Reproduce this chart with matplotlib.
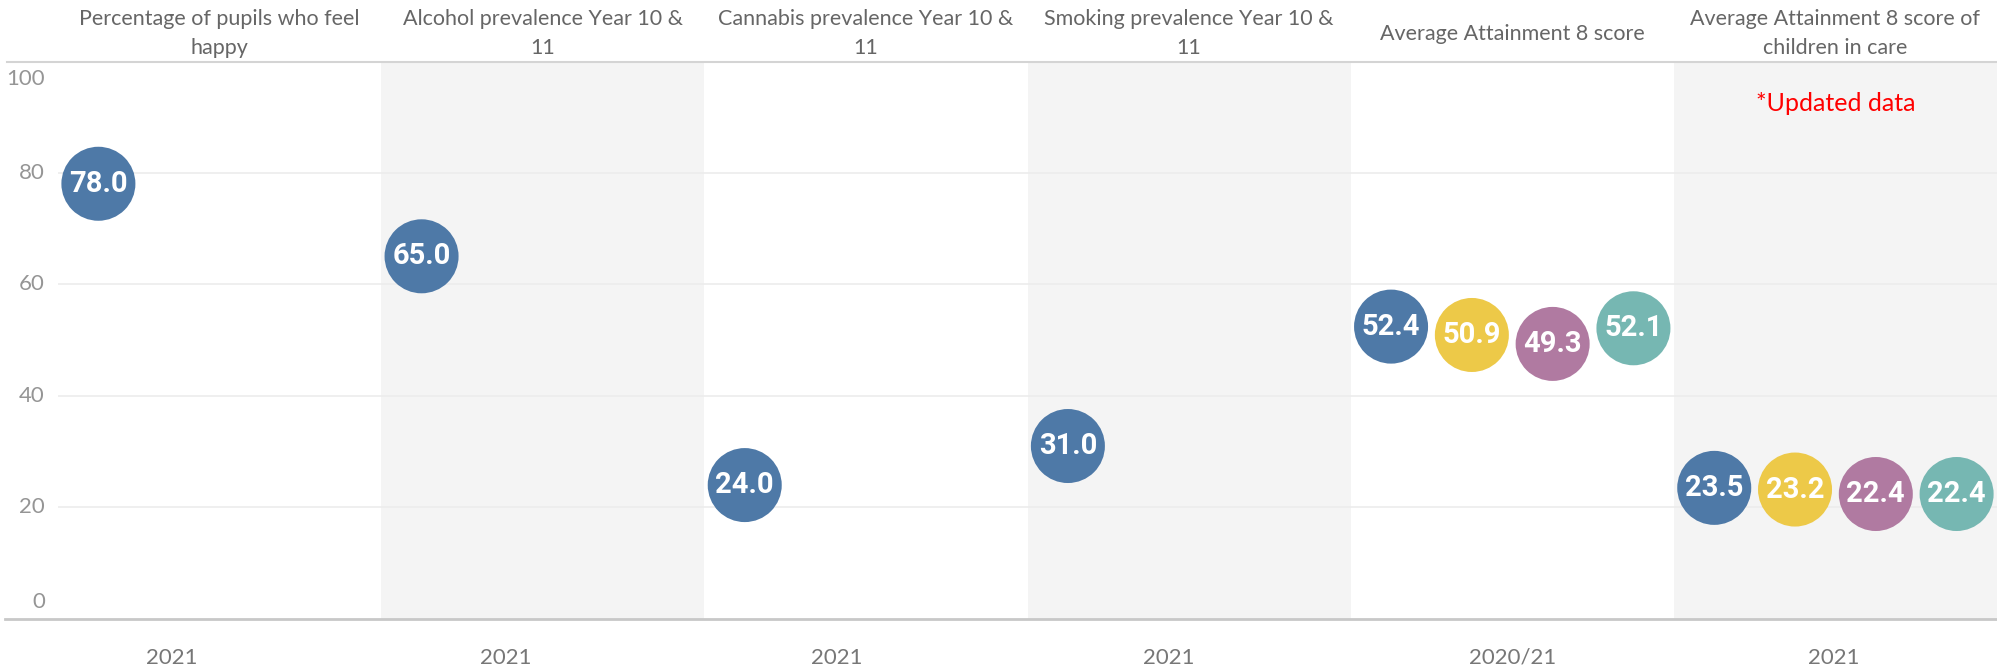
import matplotlib
matplotlib.use("Agg")
import matplotlib.pyplot as plt
from matplotlib.lines import Line2D

# ---- data ----
panel_titles = [
    "Percentage of pupils who feel\nhappy",
    "Alcohol prevalence Year 10 &\n11",
    "Cannabis prevalence Year 10 &\n11",
    "Smoking prevalence Year 10 &\n11",
    "Average Attainment 8 score",
    "Average Attainment 8 score of\nchildren in care",
]
periods = ["2021", "2021", "2021", "2021", "2020/21", "2021"]
happy = [78.0]
alcohol = [65.0]
cannabis = [24.0]
smoking = [31.0]
attainment = [52.4, 50.9, 49.3, 52.1]
attainment_care = [23.5, 23.2, 22.4, 22.4]
series_colors = ["#4E79A7", "#EDC948", "#B07AA1", "#76B7B2"]
y_ticks = [0, 20, 40, 60, 80, 100]
note = "*Updated data"

panel_values = [happy, alcohol, cannabis, smoking, attainment, attainment_care]

# ---- layout ----
period_label_x = [0.353, 1.385, 2.410, 3.438, 4.502, 5.496]

W, H = 1997, 671
fig = plt.figure(figsize=(W / 100, H / 100), dpi=100)
left_px, right_px, top_px, bot_px = 58, 1997, 61, 619
ax = fig.add_axes([left_px / W, 1 - bot_px / H, (right_px - left_px) / W, (bot_px - top_px) / H])
ax.set_xlim(0, len(panel_titles))
ax.set_ylim(0, 100)

# banded backgrounds
for p in range(len(panel_titles)):
    if p % 2 == 1:
        ax.axvspan(p, p + 1, color="#f4f4f4", lw=0, zorder=0)

for t in y_ticks[1:-1]:
    ax.axhline(t, color="#ececec", lw=1.2, zorder=1)

for s in ax.spines.values():
    s.set_visible(False)

# bubbles
for p, vals in enumerate(panel_values):
    for j, v in enumerate(vals):
        x = p + (j + 0.5) / 4
        ax.scatter([x], [v], s=2840, color=series_colors[j], edgecolor="none", zorder=3)
        ax.text(x, v, f"{v:.1f}", color="white", ha="center", va="center",
                fontsize=21, fontweight="bold", family="Roboto", zorder=4)

# y tick labels
ax.set_yticks(y_ticks)
ax.set_yticklabels([])
ax.tick_params(axis="y", length=0)
ytrans = ax.get_yaxis_transform()
xlab = -13 / (right_px - left_px)
for t in y_ticks:
    yy = t
    if t == 0:
        yy = 3.0
    elif t == 100:
        yy = 96.8
    ax.text(xlab, yy, str(t), transform=ytrans, ha="right", va="center",
            family="Lato", fontsize=16, color="#959595", clip_on=False)

# x labels (periods)
ax.set_xticks([])
xtrans = ax.get_xaxis_transform()
for xp, lab in zip(period_label_x, periods):
    ax.text(xp, -(658 - bot_px) / (bot_px - top_px), lab, transform=xtrans,
            ha="center", va="center", family="Lato", fontsize=16, color="#777777",
            clip_on=False)

# header titles
for p, title in enumerate(panel_titles):
    xf = (left_px + (p + 0.5) * (right_px - left_px) / 6) / W
    lines = title.split("\n")
    ys = [34] if len(lines) == 1 else [19, 48]
    for line, ypx in zip(lines, ys):
        fig.text(xf, 1 - ypx / H, line, ha="center", va="center", family="Lato",
                 fontsize=15.5, color="#666666")

# header and bottom rules
fig.add_artist(Line2D([7 / W, 1], [1 - 62 / H, 1 - 62 / H], color="#d4d4d4", lw=1.5))
fig.add_artist(Line2D([5 / W, 1], [1 - 619 / H, 1 - 619 / H], color="#c8c8c8", lw=2))

# note
ax.text(5.5, 92.3, note, color="#ff0000", ha="center", va="center", family="Lato", fontsize=18)

fig.savefig("out.png", dpi=100)
